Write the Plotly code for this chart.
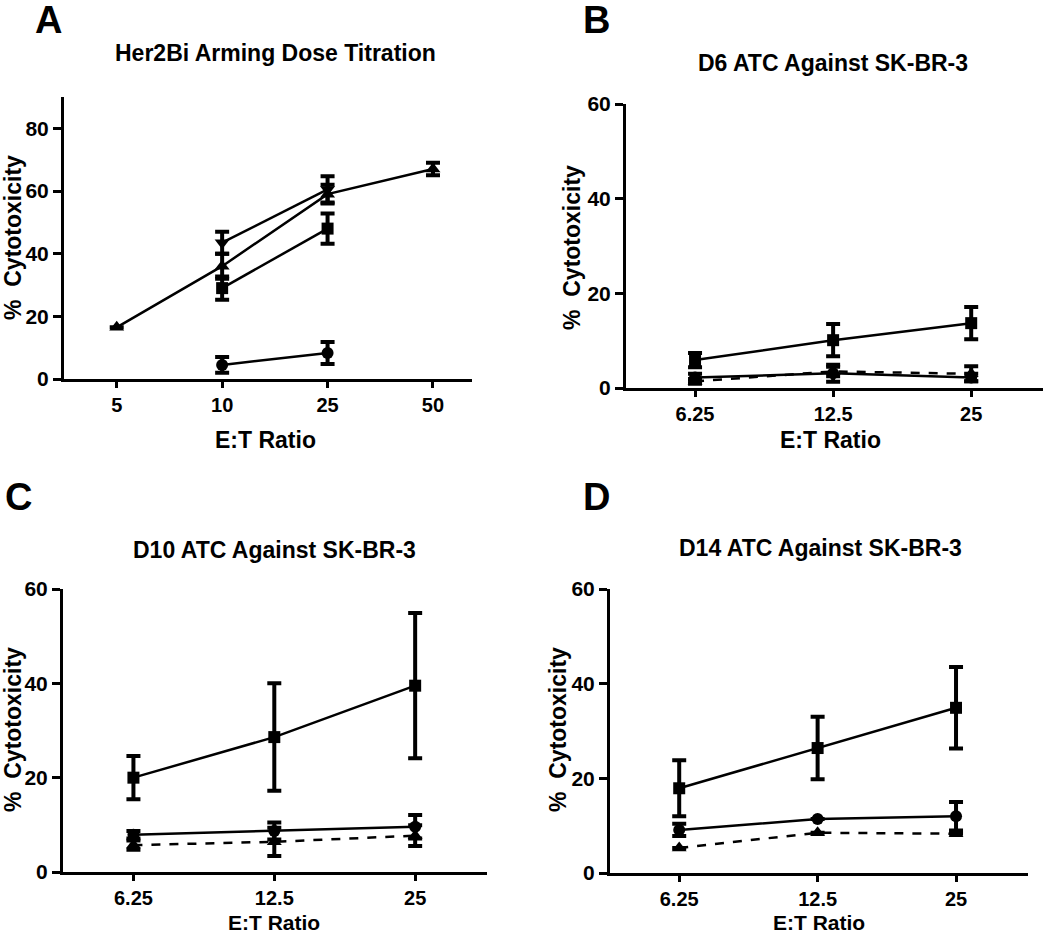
import plotly.graph_objects as go

# ---------------- data ----------------
# Panel A: Her2Bi arming dose titration
ratios_A = ["5", "10", "25", "50"]
a_tri_x = ["5", "10", "25", "50"]
a_tri_y = [16.5, 36.0, 59.0, 67.0]
a_tri_err = [0.0, 4.0, 3.0, 2.0]
a_inv_x = ["10", "25"]
a_inv_y = [43.5, 60.5]
a_inv_err = [3.5, 4.2]
a_sq_x = ["10", "25"]
a_sq_y = [29.0, 48.0]
a_sq_err = [3.7, 4.8]
a_ci_x = ["10", "25"]
a_ci_y = [4.5, 8.3]
a_ci_err = [2.5, 3.5]

# Panels B-D: ATC against SK-BR-3
ratios = ["6.25", "12.5", "25"]
b_sq_y = [5.9, 10.1, 13.7]
b_sq_err = [1.5, 3.4, 3.4]
b_ci_y = [2.2, 3.1, 2.2]
b_ci_err = [0.8, 1.8, 0.8]
b_tri_y = [1.4, 3.5, 3.0]
b_tri_err = [0.5, 1.0, 1.6]

c_sq_y = [20.0, 28.6, 39.5]
c_sq_err = [4.6, 11.4, 15.4]
c_ci_y = [7.9, 8.7, 9.6]
c_ci_err = [0.8, 1.8, 2.5]
c_tri_y = [5.7, 6.4, 7.7]
c_tri_err = [1.0, 3.0, 2.2]

d_sq_y = [17.9, 26.4, 34.9]
d_sq_err = [5.9, 6.6, 8.6]
d_ci_y = [9.1, 11.4, 12.0]
d_ci_err = [1.3, 0.0, 3.0]
d_tri_y = [5.3, 8.5, 8.3]
d_tri_err = [0.0, 0.0, 0.0]

titles = ["Her2Bi Arming Dose Titration", "D6 ATC Against SK-BR-3",
          "D10 ATC Against SK-BR-3", "D14 ATC Against SK-BR-3"]
letters = ["A", "B", "C", "D"]
ytitle = "%  Cytotoxicity"
xtitle = "E:T Ratio"

# ---------------- figure ----------------
W, H = 1050, 936
FONT = "Liberation Sans, Arial, sans-serif"
fig = go.Figure()


def add(x, y, err, symbol, size, xa, ya, dash="solid"):
    fig.add_trace(go.Scatter(
        x=x, y=y, mode="lines+markers", xaxis=xa, yaxis=ya,
        line=dict(color="black", width=2.5, dash=dash),
        marker=dict(symbol=symbol, size=size, color="black"),
        error_y=dict(type="data", array=err, visible=True, color="black",
                     thickness=4, width=7),
        cliponaxis=False, showlegend=False))


# Panel A
add(a_tri_x, a_tri_y, a_tri_err, "triangle-up", 13, "x", "y")
add(a_inv_x, a_inv_y, a_inv_err, "triangle-down", 13, "x", "y")
add(a_sq_x, a_sq_y, a_sq_err, "square", 12, "x", "y")
add(a_ci_x, a_ci_y, a_ci_err, "circle", 12, "x", "y")

# Panels B, C, D
for (sq, sqe, ci, cie, tr, tre), (xa, ya) in zip(
        [(b_sq_y, b_sq_err, b_ci_y, b_ci_err, b_tri_y, b_tri_err),
         (c_sq_y, c_sq_err, c_ci_y, c_ci_err, c_tri_y, c_tri_err),
         (d_sq_y, d_sq_err, d_ci_y, d_ci_err, d_tri_y, d_tri_err)],
        [("x2", "y2"), ("x3", "y3"), ("x4", "y4")]):
    add(ratios, tr, tre, "triangle-up", 13, xa, ya, dash="dash")
    add(ratios, ci, cie, "circle", 12, xa, ya)
    add(ratios, sq, sqe, "square", 12, xa, ya)


def pxx(x):
    return x / W


def pxy(y):
    return 1 - y / H


axcommon = dict(showline=True, linecolor="black", linewidth=3, ticks="outside",
                tickwidth=3, tickcolor="black", showgrid=False,
                zeroline=False, fixedrange=True, automargin=False)
yfont = dict(family=FONT, size=21, color="black", weight="bold")
xfont = dict(family=FONT, size=20, color="black", weight="bold")

# domains in pixel terms: (x0, x1, ybottom, ytop)
panels = [
    (64, 472, 379, 97, 90, [0, 20, 40, 60, 80], ratios_A, [-0.5, 3.37]),
    (626, 1043, 388, 104, 60, [0, 20, 40, 60], ratios, [-0.5, 2.52]),
    (63, 487, 872, 589, 60, [0, 20, 40, 60], ratios, [-0.5, 2.51]),
    (610, 1028, 873, 589, 60, [0, 20, 40, 60], ratios, [-0.5, 2.52]),
]
layout = {}
for i, (x0, x1, yb, yt, ymax, yticks, cats, xr) in enumerate(panels):
    sfx = "" if i == 0 else str(i + 1)
    layout["xaxis" + sfx] = dict(axcommon, domain=[pxx(x0), pxx(x1)],
                                 type="category", categoryorder="array",
                                 categoryarray=cats, range=xr, ticklen=6,
                                 tickfont=xfont, anchor="y" + sfx)
    layout["yaxis" + sfx] = dict(axcommon, domain=[pxy(yb), pxy(yt)],
                                 range=[0, ymax], tickvals=yticks, ticklen=8,
                                 tickfont=yfont, anchor="x" + sfx)

annotations = []
# (letter pos, title pos, ytitle pos, xtitle pos)
ann_pos = [
    ((48, 20), (275, 53), (13, 238), (265, 440)),
    ((596, 20), (833, 63), (572, 248), (830, 440)),
    ((18, 497), (274, 550), (13, 730), (274, 922)),
    ((596, 497), (820, 548), (558, 730), (819, 922)),
]
for i, (lp, tp, yp, xp) in enumerate(ann_pos):
    annotations.append(dict(text=letters[i], x=pxx(lp[0]), y=pxy(lp[1]),
                            xref="paper", yref="paper", showarrow=False,
                            xanchor="center", yanchor="middle",
                            font=dict(family=FONT, size=38, color="black",
                                      weight="bold")))
    annotations.append(dict(text=titles[i], x=pxx(tp[0]), y=pxy(tp[1]),
                            xref="paper", yref="paper", showarrow=False,
                            xanchor="center", yanchor="middle",
                            font=dict(family=FONT, size=23, color="black",
                                      weight="bold")))
    annotations.append(dict(text=ytitle, x=pxx(yp[0]), y=pxy(yp[1]),
                            xref="paper", yref="paper", showarrow=False,
                            xanchor="center", yanchor="middle", textangle=-90,
                            font=dict(family=FONT, size=23, color="black",
                                      weight="bold")))
    annotations.append(dict(text=xtitle, x=pxx(xp[0]), y=pxy(xp[1]),
                            xref="paper", yref="paper", showarrow=False,
                            xanchor="center", yanchor="middle",
                            font=dict(family=FONT, size=21 if i >= 2 else 23,
                                      color="black", weight="bold")))

fig.update_layout(
    template="none",
    width=W, height=H,
    margin=dict(l=0, r=0, t=0, b=0, pad=0, autoexpand=False),
    paper_bgcolor="white", plot_bgcolor="white",
    showlegend=False, annotations=annotations, **layout)

fig.write_html("out.html", config={"displayModeBar": False},
               post_script="document.body.style.margin='0';"
                           "document.body.style.overflow='hidden';")
